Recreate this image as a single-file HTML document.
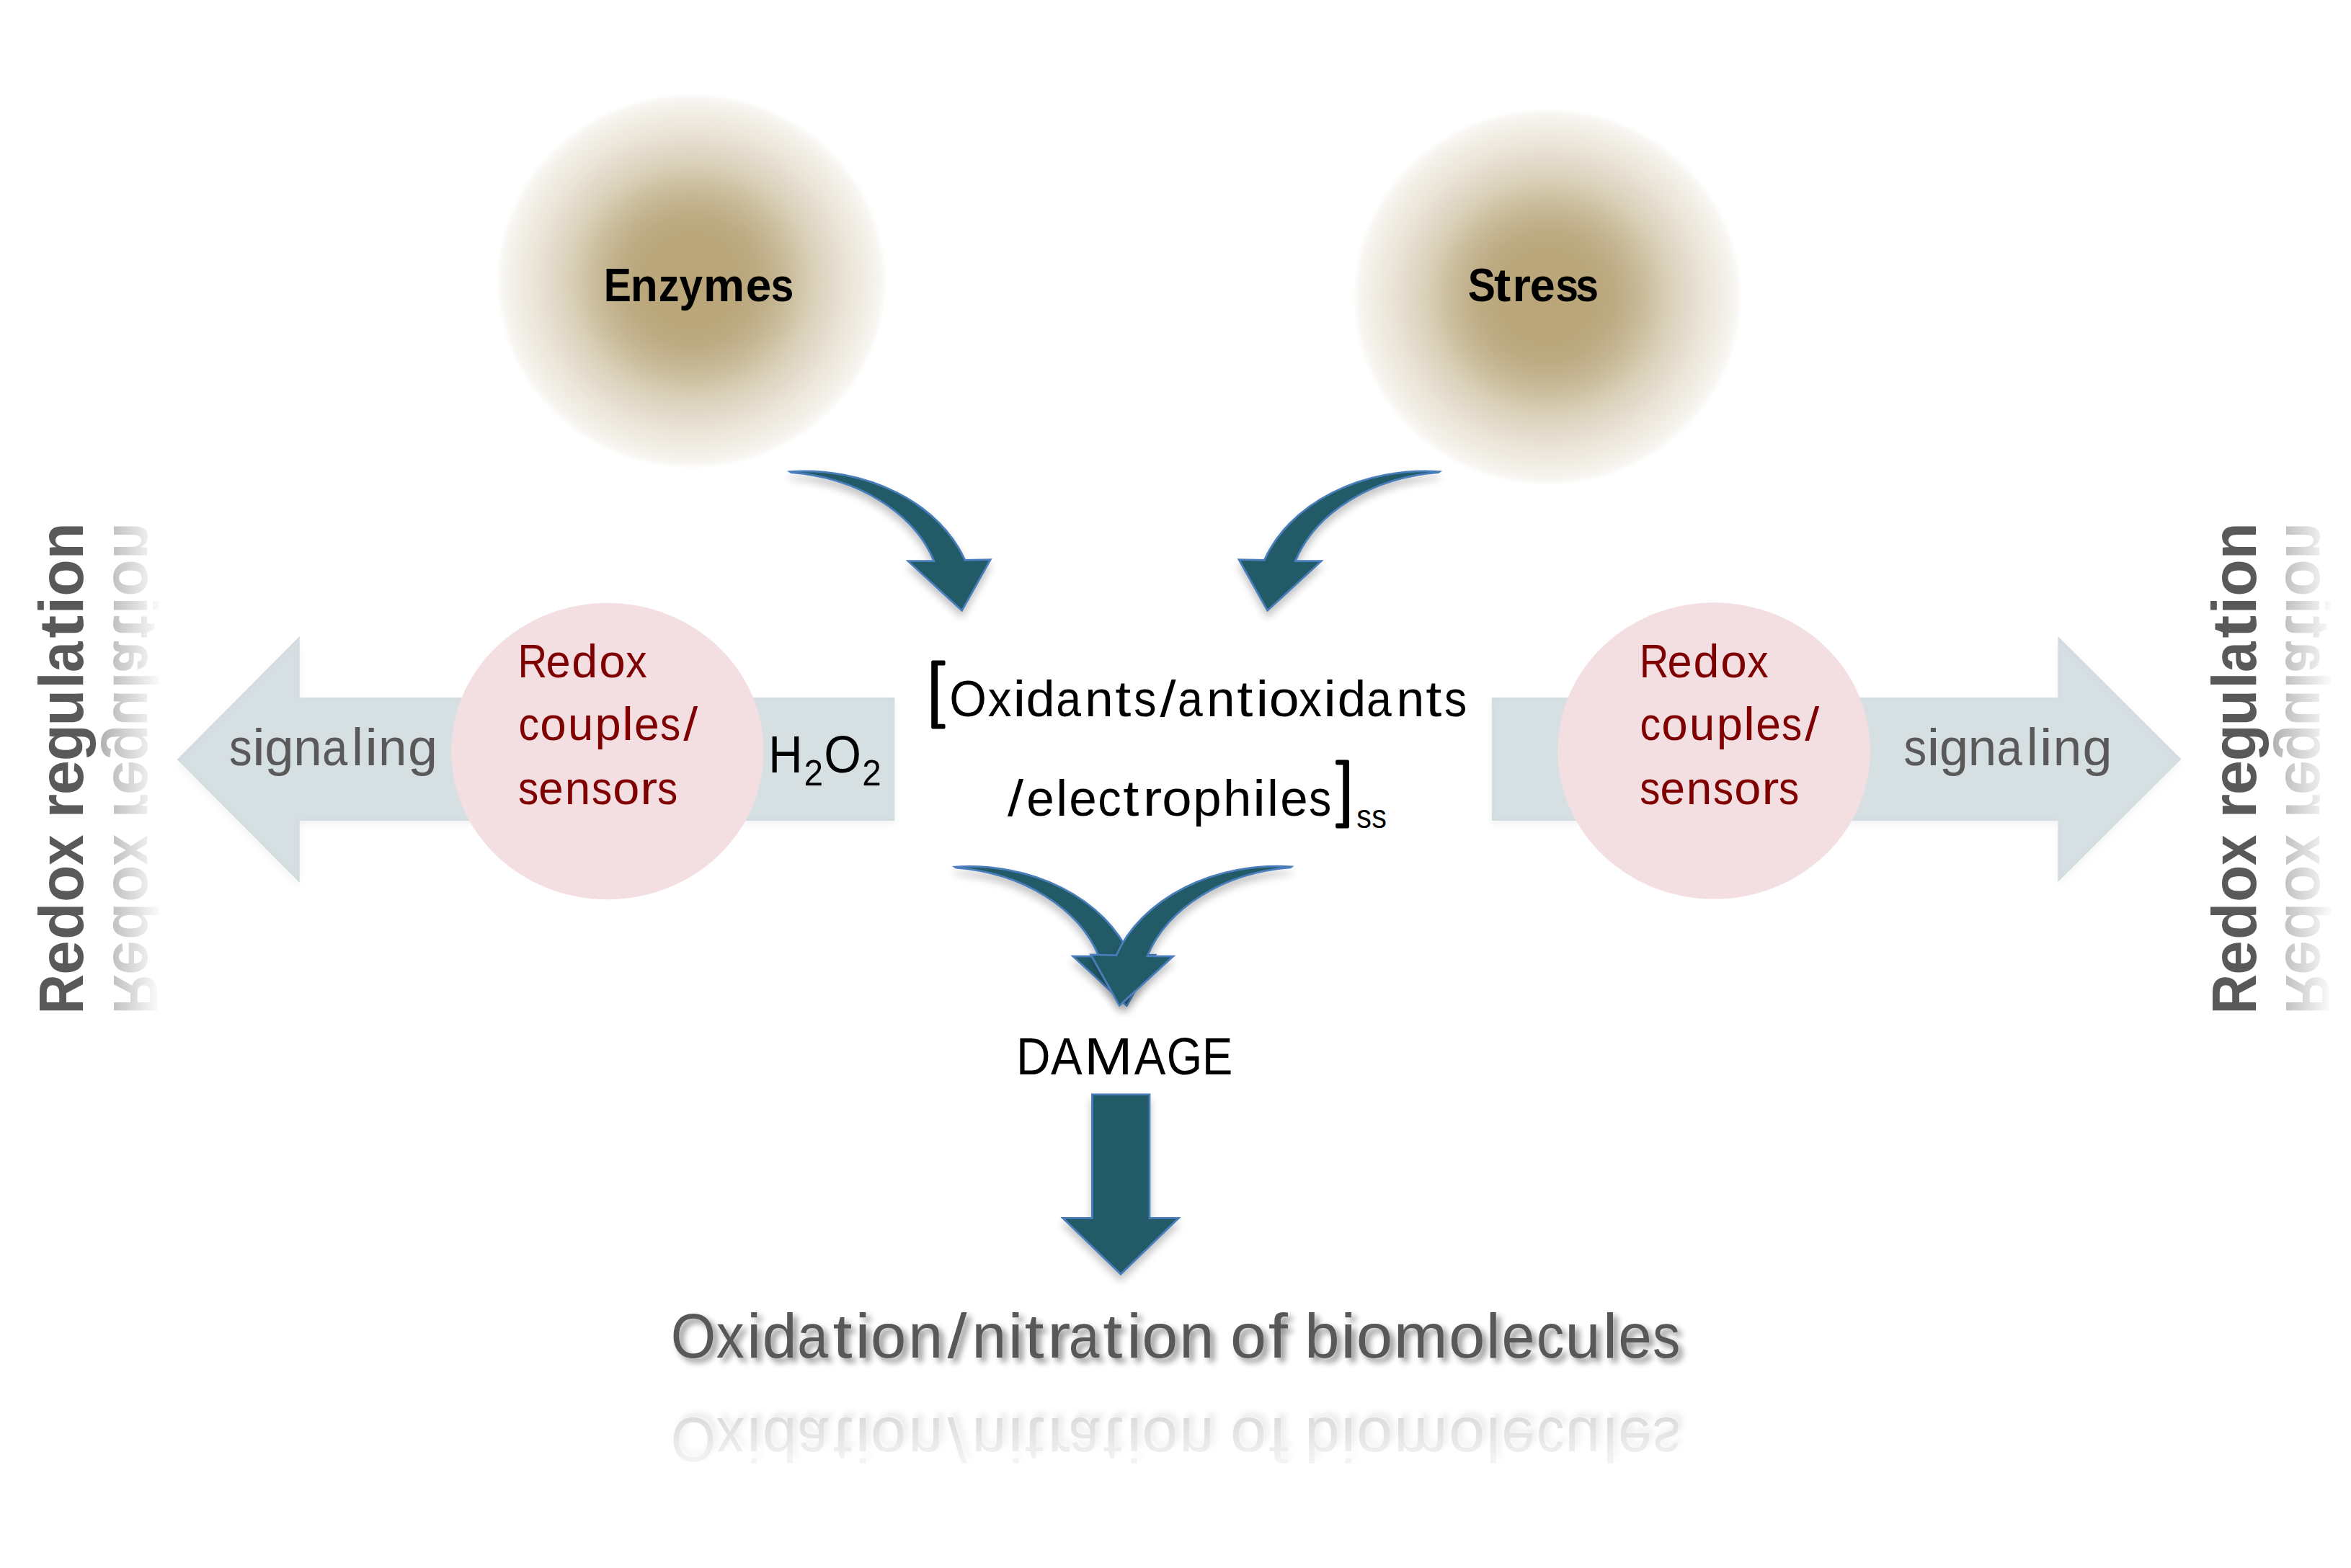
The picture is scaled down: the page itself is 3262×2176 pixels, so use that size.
<!DOCTYPE html>
<html><head><meta charset="utf-8"><title>Redox diagram</title>
<style>
html,body{margin:0;padding:0;background:#fff;}
body{width:3262px;height:2176px;overflow:hidden;}
svg{display:block;font-family:"Liberation Sans",sans-serif;font-kerning:none;}
</style></head><body>
<svg width="3262" height="2176" viewBox="0 0 3262 2176">
<defs>
  <radialGradient id="tan" cx="0.5" cy="0.5" r="0.5">
    <stop offset="0" stop-color="#b9a578"/>
    <stop offset="0.25" stop-color="#baa77b"/>
    <stop offset="0.345" stop-color="#bdab83"/>
    <stop offset="0.425" stop-color="#c3b38f"/>
    <stop offset="0.525" stop-color="#cdc1a1"/>
    <stop offset="0.62" stop-color="#dad0b8"/>
    <stop offset="0.72" stop-color="#e3dacb"/>
    <stop offset="0.816" stop-color="#ece6da"/>
    <stop offset="0.92" stop-color="#f3f0e8"/>
    <stop offset="0.97" stop-color="#f8f6f2"/>
    <stop offset="1" stop-color="#ffffff"/>
  </radialGradient>
  <filter id="sh" x="-20%" y="-20%" width="140%" height="150%">
    <feGaussianBlur in="SourceAlpha" stdDeviation="6"/>
    <feOffset dx="0" dy="8" result="b"/>
    <feComponentTransfer><feFuncA type="linear" slope="0.24"/></feComponentTransfer>
    <feMerge><feMergeNode/><feMergeNode in="SourceGraphic"/></feMerge>
  </filter>
  <filter id="shg" x="-10%" y="-10%" width="120%" height="130%">
    <feGaussianBlur in="SourceAlpha" stdDeviation="6" result="blur"/>
    <feOffset in="blur" dx="0" dy="5" result="off"/>
    <feComponentTransfer in="off" result="shadow"><feFuncA type="linear" slope="0.05"/></feComponentTransfer>
    <feGaussianBlur in="SourceAlpha" stdDeviation="5" result="b2"/>
    <feComposite in="SourceAlpha" in2="b2" operator="arithmetic" k1="0" k2="1" k3="-1" k4="0" result="edge"/>
    <feFlood flood-color="#000" flood-opacity="0.06" result="fl"/>
    <feComposite in="fl" in2="edge" operator="in" result="inner"/>
    <feMerge><feMergeNode in="shadow"/><feMergeNode in="SourceGraphic"/><feMergeNode in="inner"/></feMerge>
  </filter>
  <filter id="tsh" x="-5%" y="-30%" width="110%" height="160%">
    <feGaussianBlur in="SourceAlpha" stdDeviation="4"/>
    <feOffset dx="6" dy="6" result="b"/>
    <feComponentTransfer><feFuncA type="linear" slope="0.45"/></feComponentTransfer>
    <feMerge><feMergeNode/><feMergeNode in="SourceGraphic"/></feMerge>
  </filter>
  <path id="carrow" d="M1096.00,654.50 A236.38,183.74 0 0 1 1338.90,777.40 L1374.2,776.6 L1334.6,847.3 L1260.0,778.7 L1295.93,778.60 A232.99,177.51 0 0 0 1097.60,655.65 Z"/>
  <linearGradient id="fadeL" gradientUnits="userSpaceOnUse" x1="137" y1="0" x2="225" y2="0">
    <stop offset="0" stop-color="#fff" stop-opacity="0.48"/>
    <stop offset="1" stop-color="#fff" stop-opacity="0"/>
  </linearGradient>
  <mask id="mL" maskUnits="userSpaceOnUse" x="0" y="0" width="3262" height="2176">
    <rect x="130" y="600" width="110" height="900" fill="url(#fadeL)"/>
  </mask>
  <linearGradient id="fadeR" gradientUnits="userSpaceOnUse" x1="3151" y1="0" x2="3239" y2="0">
    <stop offset="0" stop-color="#fff" stop-opacity="0.48"/>
    <stop offset="1" stop-color="#fff" stop-opacity="0"/>
  </linearGradient>
  <mask id="mR" maskUnits="userSpaceOnUse" x="0" y="0" width="3262" height="2176">
    <rect x="3144" y="600" width="118" height="900" fill="url(#fadeR)"/>
  </mask>
  <linearGradient id="fadeB" gradientUnits="userSpaceOnUse" x1="0" y1="1926" x2="0" y2="2058">
    <stop offset="0" stop-color="#fff" stop-opacity="0.31"/>
    <stop offset="1" stop-color="#fff" stop-opacity="0"/>
  </linearGradient>
  <mask id="mB" maskUnits="userSpaceOnUse" x="0" y="0" width="3262" height="2176">
    <rect x="850" y="1926" width="1600" height="140" fill="url(#fadeB)"/>
  </mask>
</defs>
<rect width="3262" height="2176" fill="#fff"/>

<ellipse cx="959.5" cy="390" rx="271" ry="261" fill="url(#tan)"/>
<ellipse cx="2147" cy="412" rx="270" ry="262" fill="url(#tan)"/>
<g filter="url(#shg)" fill="#d6dfe2">
<polygon points="245.7,1054 415.7,883 415.7,968.1 1241.3,968.1 1241.3,1139 415.7,1139 415.7,1225"/>
<polygon points="2069.8,968.1 2855.4,968.1 2855.4,883 3026.4,1053.5 2855.4,1224 2855.4,1139 2069.8,1139"/>
</g>
<ellipse cx="842.8" cy="1042.5" rx="216.8" ry="205.7" fill="#f3dee1"/>
<ellipse cx="2378.1" cy="1041.9" rx="216.9" ry="205.7" fill="#f3dee1"/>
<g filter="url(#sh)"><use href="#carrow" fill="#205a68" stroke="#4a7ebb" stroke-width="2.75" stroke-linejoin="miter"/></g>
<g filter="url(#sh)"><use href="#carrow" fill="#205a68" stroke="#4a7ebb" stroke-width="2.75" stroke-linejoin="miter" transform="translate(3093.2,0) scale(-1,1)"/></g>
<g filter="url(#sh)"><use href="#carrow" fill="#205a68" stroke="#4a7ebb" stroke-width="2.75" stroke-linejoin="miter" transform="translate(228.8,548.5)"/></g>
<g filter="url(#sh)"><use href="#carrow" fill="#205a68" stroke="#4a7ebb" stroke-width="2.75" stroke-linejoin="miter" transform="translate(2887.8,548.3) scale(-1,1)"/></g>
<g filter="url(#sh)"><polygon fill="#205a68" stroke="#4a7ebb" stroke-width="2.75" stroke-linejoin="miter" points="1515.4,1518.8 1595,1518.8 1595,1690.3 1635.4,1690.3 1555,1768.3 1474.6,1690.3 1515.4,1690.3"/></g>
<g font-size="65" font-weight="bold" fill="#000" ><text transform="matrix(0.8800,0,0,1,837.83,418.10)">E</text><text transform="matrix(0.9557,0,0,1,874.70,418.10)">n</text><text transform="matrix(0.8800,0,0,1,913.74,418.10)">z</text><text transform="matrix(0.9010,0,0,1,942.44,418.10)">y</text><text transform="matrix(0.9863,0,0,1,976.07,418.10)">m</text><text transform="matrix(0.9812,0,0,1,1034.71,418.10)">e</text><text transform="matrix(0.8800,0,0,1,1069.46,418.10)">s</text></g>
<g font-size="65" font-weight="bold" fill="#000" ><text transform="matrix(0.8800,0,0,1,2036.67,418.00)">S</text><text transform="matrix(1.0719,0,0,1,2072.95,418.00)">t</text><text transform="matrix(1.0037,0,0,1,2098.50,418.00)">r</text><text transform="matrix(0.9685,0,0,1,2122.84,418.00)">e</text><text transform="matrix(0.8800,0,0,1,2158.16,418.00)">s</text><text transform="matrix(0.8800,0,0,1,2186.36,418.00)">s</text></g>
<g font-size="71" font-weight="normal" fill="#000" ><text transform="matrix(0.9367,0,0,1,1317.25,994.00)">O</text><text transform="matrix(0.9222,0,0,1,1370.66,994.00)">x</text><text transform="matrix(1.1200,0,0,1,1405.49,994.00)">i</text><text transform="matrix(1.0179,0,0,1,1423.47,994.00)">d</text><text transform="matrix(0.8800,0,0,1,1465.15,994.00)">a</text><text transform="matrix(0.9980,0,0,1,1505.29,994.00)">n</text><text transform="matrix(1.1200,0,0,1,1547.14,994.00)">t</text><text transform="matrix(0.8800,0,0,1,1573.24,994.00)">s</text><text transform="matrix(1.1200,0,0,1,1609.45,994.00)">/</text><text transform="matrix(0.8800,0,0,1,1634.00,994.00)">a</text><text transform="matrix(1.0013,0,0,1,1674.08,994.00)">n</text><text transform="matrix(1.1200,0,0,1,1716.29,994.00)">t</text><text transform="matrix(1.1200,0,0,1,1742.49,994.00)">i</text><text transform="matrix(1.0619,0,0,1,1760.73,994.00)">o</text><text transform="matrix(0.8986,0,0,1,1801.98,994.00)">x</text><text transform="matrix(1.1200,0,0,1,1836.34,994.00)">i</text><text transform="matrix(0.9991,0,0,1,1855.82,994.00)">d</text><text transform="matrix(0.8800,0,0,1,1896.00,994.00)">a</text><text transform="matrix(0.9814,0,0,1,1937.57,994.00)">n</text><text transform="matrix(1.1200,0,0,1,1978.14,994.00)">t</text><text transform="matrix(0.8800,0,0,1,2003.99,994.00)">s</text></g>
<g font-size="71" font-weight="normal" fill="#000" ><text transform="matrix(1.1200,0,0,1,1398.05,1131.70)">/</text><text transform="matrix(0.9785,0,0,1,1424.35,1131.70)">e</text><text transform="matrix(1.0096,0,0,1,1465.17,1131.70)">l</text><text transform="matrix(0.9755,0,0,1,1483.36,1131.70)">e</text><text transform="matrix(0.9147,0,0,1,1523.24,1131.70)">c</text><text transform="matrix(1.1200,0,0,1,1558.14,1131.70)">t</text><text transform="matrix(1.1200,0,0,1,1585.83,1131.70)">r</text><text transform="matrix(1.0470,0,0,1,1612.18,1131.70)">o</text><text transform="matrix(0.9960,0,0,1,1655.34,1131.70)">p</text><text transform="matrix(0.9982,0,0,1,1697.09,1131.70)">h</text><text transform="matrix(1.1200,0,0,1,1738.34,1131.70)">i</text><text transform="matrix(1.0096,0,0,1,1758.07,1131.70)">l</text><text transform="matrix(0.9725,0,0,1,1776.37,1131.70)">e</text><text transform="matrix(0.8800,0,0,1,1816.09,1131.70)">s</text></g>
<g font-size="47" font-weight="normal" fill="#000" ><text transform="matrix(0.8800,0,0,1,1882.28,1148.60)">s</text><text transform="matrix(0.8800,0,0,1,1903.28,1148.60)">s</text></g>
<path fill="#000" d="M1292.2,918.6 Q1292.2,916.6 1294.2,916.6 L1309.8,916.6 Q1311.6,916.6 1311.6,918.6 L1311.6,921.4 Q1311.6,923.4 1309.6,923.4 L1301.1,923.4 L1301.1,1004.8 L1309.6,1004.8 Q1311.6,1004.8 1311.6,1006.8 L1311.6,1009.6 Q1311.6,1011.6 1309.6,1011.6 L1294.2,1011.6 Q1292.2,1011.6 1292.2,1009.6 Z"/>
<path fill="#000" d="M1871.9,1056.5 Q1871.9,1054.5 1869.9,1054.5 L1855.1,1054.5 Q1853.1,1054.5 1853.1,1056.5 L1853.1,1059.5 Q1853.1,1061.5 1855.1,1061.5 L1863.3,1061.5 L1863.3,1142.5 L1855.1,1142.5 Q1853.1,1142.5 1853.1,1144.5 L1853.1,1147.5 Q1853.1,1149.5 1855.1,1149.5 L1869.9,1149.5 Q1871.9,1149.5 1871.9,1147.5 Z"/>
<g font-size="64" font-weight="normal" fill="#7f0000" ><text transform="matrix(0.8800,0,0,1,718.56,939.60)">R</text><text transform="matrix(0.9590,0,0,1,757.39,939.60)">e</text><text transform="matrix(1.0076,0,0,1,793.29,939.60)">d</text><text transform="matrix(1.0259,0,0,1,831.14,939.60)">o</text><text transform="matrix(0.9185,0,0,1,868.24,939.60)">x</text></g>
<g font-size="64" font-weight="normal" fill="#7f0000" ><text transform="matrix(0.8951,0,0,1,719.47,1026.70)">c</text><text transform="matrix(1.0259,0,0,1,749.24,1026.70)">o</text><text transform="matrix(0.9894,0,0,1,787.89,1026.70)">u</text><text transform="matrix(1.0180,0,0,1,825.60,1026.70)">p</text><text transform="matrix(1.1200,0,0,1,862.97,1026.70)">l</text><text transform="matrix(0.9757,0,0,1,880.05,1026.70)">e</text><text transform="matrix(0.8800,0,0,1,915.95,1026.70)">s</text><text transform="matrix(1.1200,0,0,1,948.24,1026.70)">/</text></g>
<g font-size="64" font-weight="normal" fill="#7f0000" ><text transform="matrix(0.8800,0,0,1,719.10,1116.20)">s</text><text transform="matrix(0.9690,0,0,1,747.37,1116.20)">e</text><text transform="matrix(0.9968,0,0,1,783.66,1116.20)">n</text><text transform="matrix(0.8800,0,0,1,821.00,1116.20)">s</text><text transform="matrix(1.0424,0,0,1,850.20,1116.20)">o</text><text transform="matrix(1.1200,0,0,1,888.33,1116.20)">r</text><text transform="matrix(0.8800,0,0,1,912.00,1116.20)">s</text></g>
<g font-size="64" font-weight="normal" fill="#7f0000" ><text transform="matrix(0.8800,0,0,1,2274.66,939.60)">R</text><text transform="matrix(0.9590,0,0,1,2313.49,939.60)">e</text><text transform="matrix(1.0076,0,0,1,2349.39,939.60)">d</text><text transform="matrix(1.0259,0,0,1,2387.24,939.60)">o</text><text transform="matrix(0.9185,0,0,1,2424.34,939.60)">x</text></g>
<g font-size="64" font-weight="normal" fill="#7f0000" ><text transform="matrix(0.8951,0,0,1,2275.57,1026.70)">c</text><text transform="matrix(1.0259,0,0,1,2305.34,1026.70)">o</text><text transform="matrix(0.9894,0,0,1,2343.99,1026.70)">u</text><text transform="matrix(1.0180,0,0,1,2381.70,1026.70)">p</text><text transform="matrix(1.1200,0,0,1,2419.07,1026.70)">l</text><text transform="matrix(0.9757,0,0,1,2436.15,1026.70)">e</text><text transform="matrix(0.8800,0,0,1,2472.05,1026.70)">s</text><text transform="matrix(1.1200,0,0,1,2504.34,1026.70)">/</text></g>
<g font-size="64" font-weight="normal" fill="#7f0000" ><text transform="matrix(0.8800,0,0,1,2275.20,1116.20)">s</text><text transform="matrix(0.9690,0,0,1,2303.47,1116.20)">e</text><text transform="matrix(0.9968,0,0,1,2339.76,1116.20)">n</text><text transform="matrix(0.8800,0,0,1,2377.10,1116.20)">s</text><text transform="matrix(1.0424,0,0,1,2406.30,1116.20)">o</text><text transform="matrix(1.1200,0,0,1,2444.43,1116.20)">r</text><text transform="matrix(0.8800,0,0,1,2468.10,1116.20)">s</text></g>
<g font-size="72" font-weight="normal" fill="#595959" ><text transform="matrix(0.8800,0,0,1,317.97,1061.80)">s</text><text transform="matrix(1.1200,0,0,1,350.01,1061.80)">i</text><text transform="matrix(1.0068,0,0,1,367.16,1061.80)">g</text><text transform="matrix(0.9841,0,0,1,407.19,1061.80)">n</text><text transform="matrix(0.8800,0,0,1,446.99,1061.80)">a</text><text transform="matrix(0.9956,0,0,1,488.07,1061.80)">l</text><text transform="matrix(1.1200,0,0,1,506.21,1061.80)">i</text><text transform="matrix(0.9841,0,0,1,525.09,1061.80)">n</text><text transform="matrix(1.0254,0,0,1,566.00,1061.80)">g</text></g>
<g font-size="72" font-weight="normal" fill="#595959" ><text transform="matrix(0.8800,0,0,1,2641.57,1061.80)">s</text><text transform="matrix(1.1200,0,0,1,2673.61,1061.80)">i</text><text transform="matrix(1.0068,0,0,1,2690.76,1061.80)">g</text><text transform="matrix(0.9841,0,0,1,2730.79,1061.80)">n</text><text transform="matrix(0.8800,0,0,1,2770.59,1061.80)">a</text><text transform="matrix(0.9956,0,0,1,2811.67,1061.80)">l</text><text transform="matrix(1.1200,0,0,1,2829.81,1061.80)">i</text><text transform="matrix(0.9841,0,0,1,2848.69,1061.80)">n</text><text transform="matrix(1.0254,0,0,1,2889.60,1061.80)">g</text></g>
<g font-size="73" font-weight="normal" fill="#000" ><text transform="matrix(0.8976,0,0,1,1066.13,1072.00)">H</text><text transform="matrix(0.9111,0,0,1,1143.35,1072.00)">O</text></g>
<g font-size="50" font-weight="normal" fill="#000" ><text transform="matrix(0.9571,0,0,1,1115.39,1090.00)">2</text><text transform="matrix(0.9527,0,0,1,1196.30,1090.00)">2</text></g>
<g font-size="72" font-weight="normal" fill="#000" ><text transform="matrix(0.9145,0,0,1,1410.00,1490.60)">D</text><text transform="matrix(0.9090,0,0,1,1458.07,1490.60)">A</text><text transform="matrix(1.1200,0,0,1,1504.31,1490.60)">M</text><text transform="matrix(0.9090,0,0,1,1573.87,1490.60)">A</text><text transform="matrix(0.8800,0,0,1,1618.83,1490.60)">G</text><text transform="matrix(0.8800,0,0,1,1668.03,1490.60)">E</text></g>
<g id="btext" filter="url(#tsh)"><g font-size="87" font-weight="normal" fill="#595959" ><text transform="matrix(0.9228,0,0,1,930.70,1883.70)">O</text><text transform="matrix(0.8945,0,0,1,993.83,1883.70)">x</text><text transform="matrix(1.0593,0,0,1,1036.04,1883.70)">i</text><text transform="matrix(0.9891,0,0,1,1057.69,1883.70)">d</text><text transform="matrix(0.8800,0,0,1,1106.28,1883.70)">a</text><text transform="matrix(1.1200,0,0,1,1155.38,1883.70)">t</text><text transform="matrix(1.1200,0,0,1,1186.25,1883.70)">i</text><text transform="matrix(1.0249,0,0,1,1207.66,1883.70)">o</text><text transform="matrix(0.9930,0,0,1,1260.36,1883.70)">n</text><text transform="matrix(1.1200,0,0,1,1314.41,1883.70)">/</text><text transform="matrix(0.9876,0,0,1,1348.39,1883.70)">n</text><text transform="matrix(1.1200,0,0,1,1398.30,1883.70)">i</text><text transform="matrix(1.1200,0,0,1,1421.38,1883.70)">t</text><text transform="matrix(1.1200,0,0,1,1453.10,1883.70)">r</text><text transform="matrix(0.8800,0,0,1,1482.63,1883.70)">a</text><text transform="matrix(1.1200,0,0,1,1530.33,1883.70)">t</text><text transform="matrix(1.0985,0,0,1,1562.91,1883.70)">i</text><text transform="matrix(1.0346,0,0,1,1584.22,1883.70)">o</text><text transform="matrix(0.9957,0,0,1,1636.25,1883.70)">n</text><text transform="matrix(1.0370,0,0,1,1707.11,1883.70)">o</text><text transform="matrix(1.1200,0,0,1,1759.65,1883.70)">f</text><text transform="matrix(0.9994,0,0,1,1810.20,1883.70)">b</text><text transform="matrix(1.1200,0,0,1,1860.05,1883.70)">i</text><text transform="matrix(1.0443,0,0,1,1881.68,1883.70)">o</text><text transform="matrix(1.0318,0,0,1,1933.64,1883.70)">m</text><text transform="matrix(1.0443,0,0,1,2009.98,1883.70)">o</text><text transform="matrix(1.0332,0,0,1,2061.84,1883.70)">l</text><text transform="matrix(0.9504,0,0,1,2083.49,1883.70)">e</text><text transform="matrix(0.8800,0,0,1,2132.04,1883.70)">c</text><text transform="matrix(1.0147,0,0,1,2171.47,1883.70)">u</text><text transform="matrix(1.0593,0,0,1,2223.69,1883.70)">l</text><text transform="matrix(0.9627,0,0,1,2245.14,1883.70)">e</text><text transform="matrix(0.8800,0,0,1,2293.08,1883.70)">s</text></g></g>
<g mask="url(#mB)"><use href="#btext" transform="translate(0,3852) scale(1,-1)"/></g>
<g id="vL" transform="translate(115.4,1399.6) rotate(-90)"><g font-size="87" font-weight="bold" fill="#595959" ><text transform="matrix(0.8800,0,0,1,-7.67,0.00)">R</text><text transform="matrix(0.9806,0,0,1,46.87,0.00)">e</text><text transform="matrix(0.9672,0,0,1,95.55,0.00)">d</text><text transform="matrix(0.9688,0,0,1,147.71,0.00)">o</text><text transform="matrix(0.8800,0,0,1,198.53,0.00)">x</text><text transform="matrix(0.9923,0,0,1,264.01,0.00)">r</text><text transform="matrix(0.9949,0,0,1,296.42,0.00)">e</text><text transform="matrix(0.9622,0,0,1,343.37,0.00)">g</text><text transform="matrix(0.9521,0,0,1,392.16,0.00)">u</text><text transform="matrix(0.9885,0,0,1,443.70,0.00)">l</text><text transform="matrix(0.8800,0,0,1,466.50,0.00)">a</text><text transform="matrix(1.1025,0,0,1,513.83,0.00)">t</text><text transform="matrix(1.0472,0,0,1,546.84,0.00)">i</text><text transform="matrix(0.9710,0,0,1,571.90,0.00)">o</text><text transform="matrix(0.9568,0,0,1,623.31,0.00)">n</text></g></g>
<g mask="url(#mL)"><use href="#vL" transform="translate(273.5,0) scale(-1,1)"/></g>
<g id="vR" transform="translate(3129.6,1399.6) rotate(-90)"><g font-size="87" font-weight="bold" fill="#595959" ><text transform="matrix(0.8800,0,0,1,-7.67,0.00)">R</text><text transform="matrix(0.9806,0,0,1,46.87,0.00)">e</text><text transform="matrix(0.9672,0,0,1,95.55,0.00)">d</text><text transform="matrix(0.9688,0,0,1,147.71,0.00)">o</text><text transform="matrix(0.8800,0,0,1,198.53,0.00)">x</text><text transform="matrix(0.9923,0,0,1,264.01,0.00)">r</text><text transform="matrix(0.9949,0,0,1,296.42,0.00)">e</text><text transform="matrix(0.9622,0,0,1,343.37,0.00)">g</text><text transform="matrix(0.9521,0,0,1,392.16,0.00)">u</text><text transform="matrix(0.9885,0,0,1,443.70,0.00)">l</text><text transform="matrix(0.8800,0,0,1,466.50,0.00)">a</text><text transform="matrix(1.1025,0,0,1,513.83,0.00)">t</text><text transform="matrix(1.0472,0,0,1,546.84,0.00)">i</text><text transform="matrix(0.9710,0,0,1,571.90,0.00)">o</text><text transform="matrix(0.9568,0,0,1,623.31,0.00)">n</text></g></g>
<g mask="url(#mR)"><use href="#vR" transform="translate(6301.8,0) scale(-1,1)"/></g>
</svg></body></html>
